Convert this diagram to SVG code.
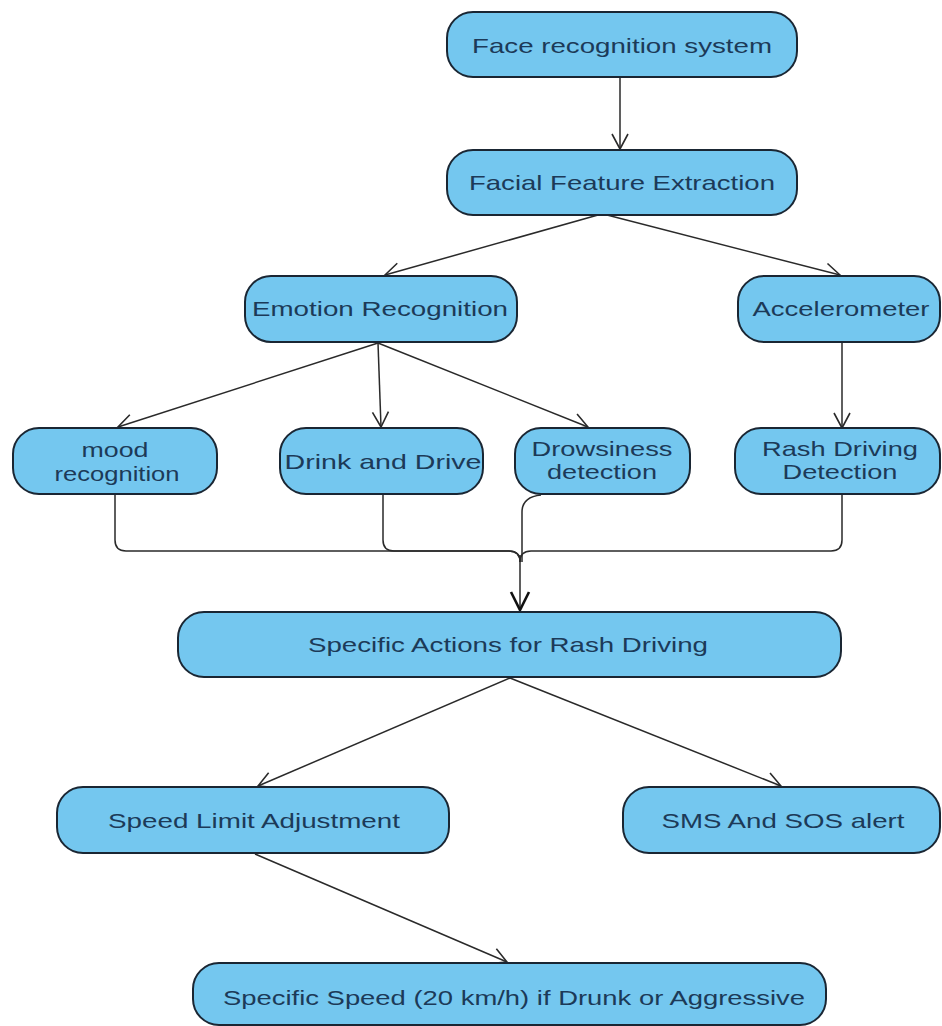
<svg xmlns="http://www.w3.org/2000/svg" width="942" height="1026" viewBox="0 0 942 1026">
<defs>
<marker id="arr" markerUnits="userSpaceOnUse" markerWidth="20" markerHeight="20" viewBox="0 0 20 20" refX="17" refY="10" orient="auto">
<path d="M2,2 L17,10 L2,18" fill="none" stroke="#2a2a2a" stroke-width="1.6"/>
</marker>
<marker id="arrB" markerUnits="userSpaceOnUse" markerWidth="24" markerHeight="24" viewBox="0 0 24 24" refX="21" refY="12" orient="auto">
<path d="M3,3 L21,12 L3,21" fill="none" stroke="#111" stroke-width="2.6"/>
</marker>
</defs>
<style>
.box{fill:#74c7ef;stroke:#1a2633;stroke-width:2}
.t{font-family:"Liberation Sans",Arial,sans-serif;font-size:21px;fill:#1c3a58;text-anchor:middle}
.e{fill:none;stroke:#2a2a2a;stroke-width:1.5}
</style>
<rect width="942" height="1026" fill="#ffffff"/>
<g id="connectors">
<line class="e" x1="620" y1="77" x2="620" y2="149" marker-end="url(#arr)"/>
<line class="e" x1="598" y1="215" x2="385" y2="275" marker-end="url(#arr)"/>
<line class="e" x1="607" y1="215" x2="840" y2="275" marker-end="url(#arr)"/>
<line class="e" x1="378" y1="343" x2="118" y2="427" marker-end="url(#arr)"/>
<line class="e" x1="378" y1="343" x2="381" y2="427" marker-end="url(#arr)"/>
<line class="e" x1="378" y1="343" x2="588" y2="427" marker-end="url(#arr)"/>
<line class="e" x1="842" y1="343" x2="842" y2="428" marker-end="url(#arr)"/>
<path class="e" d="M115,495 V540 Q115,551 126,551 H509 Q520,551 520,562"/>
<path class="e" d="M383,495 V540 Q383,551 394,551 H509 Q520,551 520,562"/>
<path class="e" d="M541,495 Q522,497 522,512 V562"/>
<path class="e" d="M842,495 V540 Q842,551 831,551 H531 Q520,551 520,562"/>
<line class="e" x1="520" y1="555" x2="520" y2="610" stroke="#111" stroke-width="3.2" marker-end="url(#arrB)"/>
<line class="e" x1="510" y1="678" x2="258" y2="786" marker-end="url(#arr)"/>
<line class="e" x1="510" y1="678" x2="781" y2="786" marker-end="url(#arr)"/>
<line class="e" x1="255" y1="854" x2="507" y2="962" marker-end="url(#arr)"/>
</g>
<g id="n-face"><rect class="box" x="447" y="12" width="350" height="65" rx="26"/><text class="t" x="622" y="53" textLength="300" lengthAdjust="spacingAndGlyphs">Face recognition system</text></g>
<g id="n-feature"><rect class="box" x="447" y="150" width="350" height="65" rx="26"/><text class="t" x="622" y="190" textLength="306" lengthAdjust="spacingAndGlyphs">Facial Feature Extraction</text></g>
<g id="n-emotion"><rect class="box" x="245" y="276" width="272" height="66" rx="26"/><text class="t" x="380" y="316" textLength="256" lengthAdjust="spacingAndGlyphs">Emotion Recognition</text></g>
<g id="n-accel"><rect class="box" x="738" y="276" width="202" height="66" rx="26"/><text class="t" x="841" y="316" textLength="177" lengthAdjust="spacingAndGlyphs">Accelerometer</text></g>
<g id="n-mood"><rect class="box" x="13" y="428" width="204" height="66" rx="26"/><text class="t" x="115" y="457" textLength="67" lengthAdjust="spacingAndGlyphs">mood</text><text class="t" x="117" y="481" textLength="125" lengthAdjust="spacingAndGlyphs">recognition</text></g>
<g id="n-drink"><rect class="box" x="280" y="428" width="203" height="66" rx="26"/><text class="t" x="383" y="469" textLength="197" lengthAdjust="spacingAndGlyphs">Drink and Drive</text></g>
<g id="n-drowsy"><rect class="box" x="515" y="428" width="175" height="66" rx="26"/><text class="t" x="602" y="456" textLength="141" lengthAdjust="spacingAndGlyphs">Drowsiness</text><text class="t" x="602" y="479" textLength="110" lengthAdjust="spacingAndGlyphs">detection</text></g>
<g id="n-rash"><rect class="box" x="735" y="428" width="205" height="66" rx="26"/><text class="t" x="840" y="456" textLength="156" lengthAdjust="spacingAndGlyphs">Rash Driving</text><text class="t" x="840" y="479" textLength="115" lengthAdjust="spacingAndGlyphs">Detection</text></g>
<g id="n-actions"><rect class="box" x="178" y="612" width="663" height="65" rx="26"/><text class="t" x="508" y="652" textLength="400" lengthAdjust="spacingAndGlyphs">Specific Actions for Rash Driving</text></g>
<g id="n-speedlimit"><rect class="box" x="57" y="787" width="392" height="66" rx="26"/><text class="t" x="254" y="828" textLength="292" lengthAdjust="spacingAndGlyphs">Speed Limit Adjustment</text></g>
<g id="n-sms"><rect class="box" x="623" y="787" width="317" height="66" rx="26"/><text class="t" x="783" y="828" textLength="243" lengthAdjust="spacingAndGlyphs">SMS And SOS alert</text></g>
<g id="n-specificspeed"><rect class="box" x="193" y="963" width="633" height="62" rx="26"/><text class="t" x="514" y="1005" textLength="582" lengthAdjust="spacingAndGlyphs">Specific Speed (20 km/h) if Drunk or Aggressive</text></g>
</svg>
